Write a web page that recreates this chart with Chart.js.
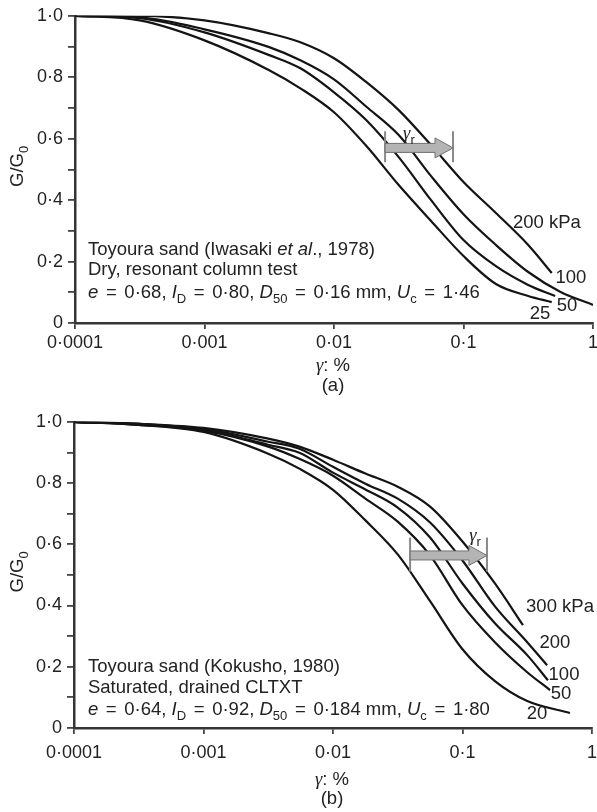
<!DOCTYPE html>
<html><head><meta charset="utf-8">
<script src="https://cdn.jsdelivr.net/npm/chart.js@4.4.1/dist/chart.umd.min.js"></script>
<style>
html,body{margin:0;padding:0;background:#fff;}
body{width:597px;height:812px;position:relative;overflow:hidden;}
canvas{position:absolute;left:0;}
#ca{top:0;} #cb{top:406px;}
</style></head><body>
<canvas id="ca" width="597" height="400"></canvas>
<canvas id="cb" width="597" height="406"></canvas>
<script>
// ---------- tick labels ----------
const xTickValues = [0.0001, 0.001, 0.01, 0.1, 1];
const xTickLabels = ['0·0001', '0·001', '0·01', '0·1', '1'];
const yTickLabels = ['0', '0·2', '0·4', '0·6', '0·8', '1·0'];

// ---------- panel (a): Iwasaki et al. 1978 ----------
const a200Strain = [0.0001, 0.000316, 0.001, 0.00316, 0.0055, 0.01, 0.0178, 0.0316, 0.0562, 0.1, 0.178, 0.316, 0.48];
const a200Ratio  = [1.0, 1.0, 0.985, 0.943, 0.914, 0.862, 0.784, 0.693, 0.579, 0.459, 0.358, 0.254, 0.163];
const a100Strain = [0.0001, 0.000316, 0.001, 0.00316, 0.0055, 0.01, 0.0178, 0.0316, 0.0562, 0.1, 0.178, 0.316, 0.562, 1.0];
const a100Ratio  = [1.0, 0.995, 0.956, 0.898, 0.855, 0.793, 0.704, 0.612, 0.478, 0.354, 0.254, 0.166, 0.101, 0.059];
const a50Strain  = [0.0001, 0.000316, 0.001, 0.00316, 0.0055, 0.01, 0.0178, 0.0316, 0.0562, 0.1, 0.178, 0.316, 0.51];
const a50Ratio   = [1.0, 0.992, 0.946, 0.872, 0.829, 0.751, 0.660, 0.540, 0.400, 0.270, 0.185, 0.124, 0.088];
const a25Strain  = [0.0001, 0.000316, 0.001, 0.00316, 0.0055, 0.01, 0.0178, 0.0316, 0.0562, 0.1, 0.178, 0.316, 0.48];
const a25Ratio   = [1.0, 0.985, 0.920, 0.823, 0.764, 0.686, 0.576, 0.449, 0.332, 0.218, 0.127, 0.088, 0.068];

// ---------- panel (b): Kokusho 1980 ----------
const b300Strain = [0.0001, 0.000316, 0.001, 0.00316, 0.0055, 0.01, 0.0178, 0.0316, 0.0562, 0.1, 0.178, 0.293];
const b300Ratio  = [1.0, 0.993, 0.980, 0.945, 0.919, 0.876, 0.831, 0.788, 0.723, 0.609, 0.472, 0.336];
const b200Strain = [0.0001, 0.000316, 0.001, 0.00316, 0.0055, 0.01, 0.0178, 0.0316, 0.0562, 0.1, 0.178, 0.316, 0.45];
const b200Ratio  = [1.0, 0.993, 0.977, 0.935, 0.912, 0.853, 0.798, 0.749, 0.671, 0.547, 0.397, 0.280, 0.205];
const b100Strain = [0.0001, 0.000316, 0.001, 0.00316, 0.0055, 0.01, 0.0178, 0.0316, 0.0562, 0.1, 0.178, 0.316, 0.457];
const b100Ratio  = [1.0, 0.993, 0.974, 0.925, 0.899, 0.834, 0.779, 0.720, 0.622, 0.472, 0.342, 0.238, 0.156];
const b50Strain  = [0.0001, 0.000316, 0.001, 0.00316, 0.0055, 0.01, 0.0178, 0.0316, 0.0562, 0.1, 0.178, 0.316, 0.474];
const b50Ratio   = [1.0, 0.990, 0.971, 0.919, 0.879, 0.824, 0.749, 0.674, 0.564, 0.401, 0.280, 0.182, 0.124];
const b20Strain  = [0.0001, 0.000316, 0.001, 0.00316, 0.0055, 0.01, 0.0178, 0.0316, 0.0562, 0.1, 0.178, 0.316, 0.676];
const b20Ratio   = [1.0, 0.990, 0.967, 0.896, 0.847, 0.778, 0.678, 0.567, 0.414, 0.257, 0.153, 0.088, 0.049];

// ---------- annotations (data coordinates) ----------
const curveLabelsA = [
  {t: '200 kPa', x: 0.441, y: 0.325}, {t: '100', x: 0.676, y: 0.146},
  {t: '50', x: 0.63, y: 0.055}, {t: '25', x: 0.39, y: 0.029}
];
const curveLabelsB = [
  {t: '300 kPa', x: 0.566, y: 0.394}, {t: '200', x: 0.517, y: 0.277},
  {t: '100', x: 0.608, y: 0.173}, {t: '50', x: 0.576, y: 0.111}, {t: '20', x: 0.376, y: 0.046}
];
const gammaRA = {from: 0.0248, to: 0.083, y: 0.57, lo: 0.523, hi: 0.624, lx: 0.0379, ly: 0.621};
const gammaRB = {from: 0.0394, to: 0.1545, y: 0.5635, lo: 0.511, hi: 0.622, lx: 0.125, ly: 0.632};

const notesA = {x: 0.000126, ys: [0.244, 0.176, 0.104], lines: [
  [{t: 'Toyoura sand (Iwasaki '}, {t: 'et al', i: 1}, {t: '., 1978)'}],
  [{t: 'Dry, resonant column test'}],
  [{t: 'e', i: 1}, {t: ' = 0·68, '}, {t: 'I', i: 1}, {t: 'D', s: 1}, {t: ' = 0·80, '}, {t: 'D', i: 1}, {t: '50', s: 1},
   {t: ' = 0·16 mm, '}, {t: 'U', i: 1}, {t: 'c', s: 1}, {t: ' = 1·46'}]
]};
const notesB = {x: 0.000128, ys: [0.205, 0.137, 0.065], lines: [
  [{t: 'Toyoura sand (Kokusho, 1980)'}],
  [{t: 'Saturated, drained CLTXT'}],
  [{t: 'e', i: 1}, {t: ' = 0·64, '}, {t: 'I', i: 1}, {t: 'D', s: 1}, {t: ' = 0·92, '}, {t: 'D', i: 1}, {t: '50', s: 1},
   {t: ' = 0·184 mm, '}, {t: 'U', i: 1}, {t: 'c', s: 1}, {t: ' = 1·80'}]
]};

const SANS = '"Liberation Sans", Arial, Helvetica, sans-serif';
const SERIF = '"Liberation Serif", "Times New Roman", serif';
const TXT = '#222';
const FS = 18.5, SUBFS = 13, TICKFS = 18, EQGAP = 2.5;

function segFont(s) {
  if (s.g) return 'italic ' + FS + 'px ' + SERIF;
  if (s.gs || s.s) return SUBFS + 'px ' + SANS;
  return (s.i ? 'italic ' : '') + FS + 'px ' + SANS;
}
// split a segment on '=' so that the equals sign gets a little extra room
function pieces(s) {
  const parts = s.t.split('=');
  const out = [];
  parts.forEach((p, k) => {
    if (k > 0) out.push({t: '=', gap: EQGAP});
    if (p) out.push({t: p});
  });
  return out;
}
function drawRich(ctx, segs, x, cy, align) {
  ctx.textBaseline = 'alphabetic';
  ctx.textAlign = 'left';
  const items = [];
  segs.forEach(s => pieces(s).forEach(p => items.push({t: p.t, gap: p.gap || 0, font: segFont(s), sub: !!(s.s || s.gs)})));
  let w = 0;
  items.forEach(it => { ctx.font = it.font; w += ctx.measureText(it.t).width + 2 * it.gap; });
  let cx = align === 'center' ? x - w / 2 : x;
  const base = cy + 6.5;
  items.forEach(it => {
    ctx.font = it.font;
    cx += it.gap;
    ctx.fillText(it.t, cx, base + (it.sub ? 5 : 0));
    cx += ctx.measureText(it.t).width + it.gap;
  });
}

const annotPlugin = {
  id: 'annot',
  afterDraw(chart, args, o) {
    const ctx = chart.ctx, xs = chart.scales.x, ys = chart.scales.y, ca = chart.chartArea;
    ctx.save();
    ctx.fillStyle = TXT;
    // curve labels
    ctx.font = FS + 'px ' + SANS;
    ctx.textAlign = 'center'; ctx.textBaseline = 'middle';
    o.labels.forEach(l => ctx.fillText(l.t, xs.getPixelForValue(l.x), ys.getPixelForValue(l.y)));
    // notes
    o.notes.lines.forEach((ln, k) => drawRich(ctx, ln, xs.getPixelForValue(o.notes.x), ys.getPixelForValue(o.notes.ys[k]), 'left'));
    // gamma_r arrow
    const g = o.gr;
    const x1 = xs.getPixelForValue(g.from), x2 = xs.getPixelForValue(g.to), yc = ys.getPixelForValue(g.y);
    const yl = ys.getPixelForValue(g.lo), yh = ys.getPixelForValue(g.hi);
    ctx.strokeStyle = '#8a8a8a'; ctx.lineWidth = 2;
    ctx.beginPath(); ctx.moveTo(x1, yl); ctx.lineTo(x1, yh); ctx.moveTo(x2, yl); ctx.lineTo(x2, yh); ctx.stroke();
    const xh = x2 - 18;
    ctx.beginPath();
    ctx.moveTo(x1, yc - 4.5); ctx.lineTo(xh, yc - 4.5); ctx.lineTo(xh, yc - 10); ctx.lineTo(x2, yc);
    ctx.lineTo(xh, yc + 10); ctx.lineTo(xh, yc + 4.5); ctx.lineTo(x1, yc + 4.5); ctx.closePath();
    ctx.fillStyle = '#b4b4b4'; ctx.fill();
    ctx.strokeStyle = '#707070'; ctx.lineWidth = 1; ctx.stroke();
    ctx.fillStyle = TXT;
    drawRich(ctx, [{t: 'γ', g: 1}, {t: 'r', gs: 1}], xs.getPixelForValue(g.lx), ys.getPixelForValue(g.ly), 'center');
    // y title (rotated)
    ctx.save();
    ctx.translate(16, (ca.top + ca.bottom) / 2 - 3);
    ctx.rotate(-Math.PI / 2);
    drawRich(ctx, [{t: 'G/G'}, {t: '0', s: 1}], 0, 0, 'center');
    ctx.restore();
    // x title and panel letter
    const xc = (ca.left + ca.right) / 2 - 1;
    drawRich(ctx, [{t: 'γ', g: 1}, {t: ': %'}], xc, ca.bottom + o.xTitleOff, 'center');
    drawRich(ctx, [{t: o.panel}], xc, ca.bottom + o.panelOff, 'center');
    ctx.restore();
  }
};

function mkData(xs, ys) { return xs.map((v, i) => ({x: v, y: ys[i]})); }

function makeChart(id, series, cfg) {
  const axisCommon = {
    border: {display: true, color: '#353535', width: 2.5},
  };
  return new Chart(document.getElementById(id), {
    type: 'line',
    data: {datasets: series.map(s => ({label: s.label, data: mkData(s.x, s.y)}))},
    plugins: [annotPlugin],
    options: {
      responsive: false, animation: false, devicePixelRatio: 1,
      layout: {padding: {top: 15, right: cfg.padR, left: 0, bottom: 0}},
      elements: {
        point: {radius: 0},
        line: {borderWidth: 2.2, borderColor: '#141414', cubicInterpolationMode: 'monotone', fill: false}
      },
      plugins: {
        legend: {display: false}, tooltip: {enabled: false},
        annot: cfg.annot
      },
      scales: {
        x: Object.assign({}, axisCommon, {
          type: 'logarithmic', min: 0.0001, max: 1,
          afterFit(s) { s.height = cfg.xh; s.paddingLeft = 0; s.paddingRight = 0; },
          afterBuildTicks(s) { s.ticks = xTickValues.map(v => ({value: v})); },
          ticks: {
            autoSkip: false, maxRotation: 0, color: TXT, padding: cfg.xPad,
            font: {family: SANS, size: TICKFS},
            callback(v) {
              const k = xTickValues.findIndex(t => Math.abs(Math.log10(t) - Math.log10(v)) < 1e-6);
              return k >= 0 ? xTickLabels[k] : '';
            }
          },
          grid: {drawOnChartArea: false, drawTicks: true, tickLength: 6, color: '#444', lineWidth: 1.8}
        }),
        y: Object.assign({}, axisCommon, {
          type: 'linear', min: 0, max: 1,
          afterFit(s) { s.width = cfg.yw; },
          ticks: {
            stepSize: 0.1, autoSkip: false, color: TXT, padding: 5,
            font: {family: SANS, size: TICKFS},
            callback(v) {
              const k = Math.round(v * 10);
              return k % 2 === 0 ? yTickLabels[k / 2] : '';
            }
          },
          grid: {drawOnChartArea: false, drawTicks: true, tickLength: 7, color: '#444', lineWidth: 1.8}
        })
      }
    }
  });
}

makeChart('ca', [
  {label: '200 kPa', x: a200Strain, y: a200Ratio},
  {label: '100 kPa', x: a100Strain, y: a100Ratio},
  {label: '50 kPa', x: a50Strain, y: a50Ratio},
  {label: '25 kPa', x: a25Strain, y: a25Ratio}
], {padR: 4, yw: 75, xh: 77, xPad: 3,
    annot: {labels: curveLabelsA, notes: notesA, gr: gammaRA, panel: '(a)', xTitleOff: 41, panelOff: 61}});

makeChart('cb', [
  {label: '300 kPa', x: b300Strain, y: b300Ratio},
  {label: '200 kPa', x: b200Strain, y: b200Ratio},
  {label: '100 kPa', x: b100Strain, y: b100Ratio},
  {label: '50 kPa', x: b50Strain, y: b50Ratio},
  {label: '20 kPa', x: b20Strain, y: b20Ratio}
], {padR: 5, yw: 74, xh: 84, xPad: 8,
    annot: {labels: curveLabelsB, notes: notesB, gr: gammaRB, panel: '(b)', xTitleOff: 50, panelOff: 69}});
</script>
</body></html>
